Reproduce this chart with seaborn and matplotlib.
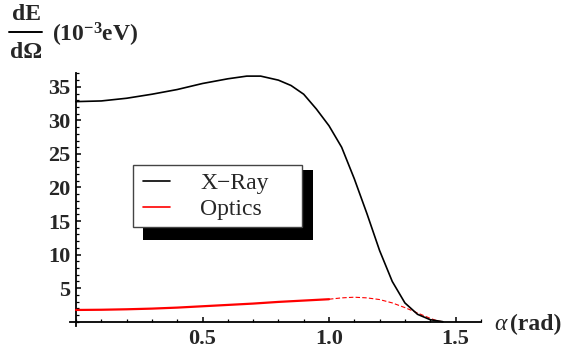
import numpy as np
import pandas as pd
import matplotlib
matplotlib.use("Agg")
import matplotlib.pyplot as plt
from matplotlib.patches import Rectangle
from matplotlib.lines import Line2D
from matplotlib.ticker import MultipleLocator
import seaborn as sns

# values
xray_alpha = [0.00, 0.10, 0.20, 0.30, 0.40, 0.50, 0.60, 0.675, 0.73, 0.80, 0.85,
              0.90, 0.95, 1.00, 1.05, 1.10, 1.15, 1.20, 1.25, 1.30, 1.35, 1.40,
              1.45]
xray_val = [32.8, 32.9, 33.3, 33.9, 34.6, 35.5, 36.2, 36.6, 36.6, 36.0, 35.2,
            33.9, 31.7, 29.2, 26.0, 21.3, 16.1, 10.6, 6.0, 2.8, 1.1, 0.3,
            0.0]

optics_alpha = [0.00, 0.10, 0.20, 0.30, 0.40, 0.50, 0.60, 0.70, 0.80, 0.90, 1.00]
optics_val = [1.75, 1.78, 1.85, 1.95, 2.1, 2.3, 2.5, 2.7, 2.95, 3.15, 3.35]

optics_ext_alpha = [1.00, 1.05, 1.10, 1.15, 1.20, 1.25, 1.30, 1.35, 1.40, 1.43, 1.45]
optics_ext_val = [3.35, 3.55, 3.65, 3.55, 3.3, 2.8, 2.1, 1.3, 0.5, 0.1, 0.0]

y_ticks = [5, 10, 15, 20, 25, 30, 35]
x_ticks = [0.5, 1.0, 1.5]
x_tick_labels = ["0.5", "1.0", "1.5"]

sns.set_style("white")
plt.rcParams["font.family"] = ["Liberation Serif", "DejaVu Serif"]
plt.rcParams["mathtext.fontset"] = "custom"
plt.rcParams["mathtext.rm"] = "Liberation Serif"
plt.rcParams["mathtext.it"] = "Liberation Serif:italic"
plt.rcParams["mathtext.bf"] = "Liberation Serif:bold"

W, H = 569, 358
fig = plt.figure(figsize=(W / 100, H / 100), dpi=100)


def fx(px):
    return px / W


def fy(py):
    return 1 - py / H


# axes box: x=0 at px 76, 253 px/unit ; y=0 at px 321.7, 6.71 px/unit
xlim = (-0.025, 1.6)
ylim = (-0.7, 37.0)
left = 76 + xlim[0] * 253
right = 76 + xlim[1] * 253
bottom = 321.7 - ylim[0] * 6.71
top = 321.7 - ylim[1] * 6.71
ax = fig.add_axes([fx(left), fy(bottom), fx(right - left), (bottom - top) / H])

xray = pd.DataFrame({"alpha": xray_alpha, "val": xray_val})
opt = pd.DataFrame({"alpha": optics_alpha, "val": optics_val})
opt_ext = pd.DataFrame({"alpha": optics_ext_alpha, "val": optics_ext_val})

sns.lineplot(data=xray, x="alpha", y="val", ax=ax, color="black", lw=1.2,
             estimator=None, sort=False, zorder=3)
sns.lineplot(data=opt, x="alpha", y="val", ax=ax, color="red", lw=1.6,
             estimator=None, sort=False, zorder=3)
sns.lineplot(data=opt_ext, x="alpha", y="val", ax=ax, color="red", lw=0.8,
             dashes=False, estimator=None, sort=False, zorder=2)
ax.lines[-1].set_dashes((4, 2))

ax.set_xlim(*xlim)
ax.set_ylim(*ylim)
ax.set_xlabel("")
ax.set_ylabel("")
ax.patch.set_visible(False)

for s in ["top", "right"]:
    ax.spines[s].set_visible(False)
ax.spines["left"].set_position(("data", 0))
ax.spines["bottom"].set_position(("data", 0))
for s in ["left", "bottom"]:
    ax.spines[s].set_linewidth(1.3)
    ax.spines[s].set_color("black")

ax.set_xticks(x_ticks)
ax.set_xticklabels(x_tick_labels)
ax.set_yticks(y_ticks)
ax.xaxis.set_minor_locator(MultipleLocator(0.1))
ax.yaxis.set_minor_locator(MultipleLocator(1))
ax.tick_params(which="both", bottom=True, left=True, top=False, right=False)
ax.tick_params(which="major", direction="in", length=3.5, width=1.1,
               color="black", labelsize=16)
ax.tick_params(which="minor", direction="in", length=2, width=0.9, color="black")
ax.tick_params(axis="x", which="major", pad=5)
ax.tick_params(axis="y", which="major", pad=4)
for lbl in ax.get_xticklabels() + ax.get_yticklabels():
    lbl.set_fontweight("bold")

# legend with offset black shadow
fig.patches.append(Rectangle((fx(143), fy(240)), fx(313 - 143), (240 - 170) / H,
                             transform=fig.transFigure, facecolor="black",
                             edgecolor="none", zorder=4))
fig.patches.append(Rectangle((fx(133), fy(227)), fx(302 - 133), (227 - 165) / H,
                             transform=fig.transFigure, facecolor="white",
                             edgecolor="#444444", lw=1, zorder=4.5))
handles = [Line2D([], [], color="black", lw=1.2),
           Line2D([], [], color="red", lw=1.2)]
fig.legend(handles, ["X\u2212Ray", "Optics"], loc="center left",
           bbox_to_anchor=(fx(143), fy(196.5)), bbox_transform=fig.transFigure,
           frameon=False, fontsize=17, handlelength=1.15, handletextpad=1.27,
           labelspacing=0.2, borderpad=0, borderaxespad=0)

# y axis label as a fraction
fig.text(fx(26.5), fy(15), "dE", ha="center", va="center", fontsize=17,
         fontweight="bold")
fig.lines.append(Line2D([fx(9.3), fx(41.7)], [fy(32.3), fy(32.3)],
                        transform=fig.transFigure, color="black", lw=1.4))
fig.text(fx(26.5), fy(52.5), "d\u03a9", ha="center", va="center", fontsize=17,
         fontweight="bold")
fig.text(fx(51.7), fy(41.5), r"$\mathbf{(10^{-3}eV)}$", ha="left",
         va="baseline", fontsize=17)

# x axis label
fig.text(fx(494), fy(330.5), r"$\alpha$", ha="left", va="baseline", fontsize=17)
fig.text(fx(510), fy(330.5), "(rad)", ha="left", va="baseline", fontsize=17,
         fontweight="bold")

fig.savefig("out.png", dpi=100)
